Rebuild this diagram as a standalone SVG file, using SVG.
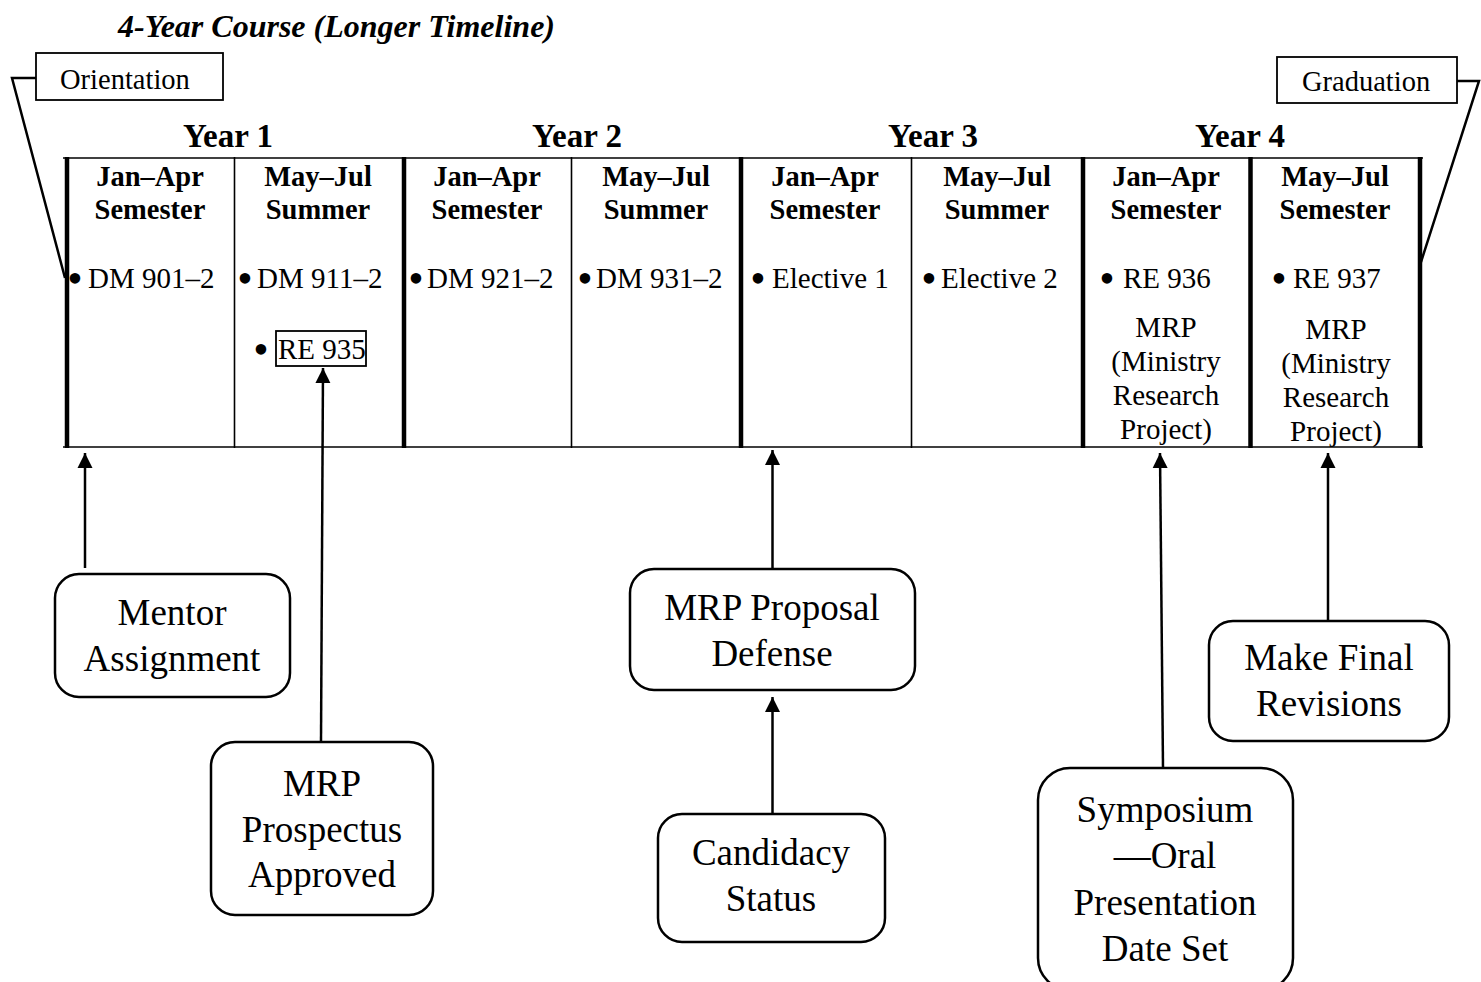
<svg xmlns="http://www.w3.org/2000/svg" width="1481" height="982" viewBox="0 0 1481 982">
<defs>
<marker id="ah" markerUnits="userSpaceOnUse" markerWidth="16" markerHeight="16" viewBox="0 0 16 16" refX="15" refY="8" orient="auto">
<path d="M0,0.5 L15,8 L0,15.5 Z" fill="#000"/>
</marker>
<style>
text{font-family:"Liberation Serif","Times New Roman",serif;fill:#000}
.t{font-weight:bold;font-style:italic;font-size:32px}
.yr{font-weight:bold;font-size:33px;text-anchor:middle}
.hd{font-weight:bold;font-size:28.5px;text-anchor:middle}
.it{font-size:29px}
.bu{font-size:44px;text-anchor:middle}
.c{font-size:29px;text-anchor:middle}
.lb{font-size:28.5px}
.bx{font-size:37px;text-anchor:middle}
.node{fill:#fff;stroke:#000;stroke-width:2.5}
.thin{stroke:#000;stroke-width:1.6}
.thick{stroke:#000;stroke-width:4.5}
.conn line,.conn polyline{stroke:#000;stroke-width:2.5;fill:none}
</style>
</defs>
<rect width="1481" height="982" fill="#fff"/>
<text class="t" x="118" y="37">4-Year Course (Longer Timeline)</text>

<g id="table">
<text class="yr" x="228" y="147">Year 1</text>
<text class="yr" x="577" y="147">Year 2</text>
<text class="yr" x="933" y="147">Year 3</text>
<text class="yr" x="1240" y="147">Year 4</text>
<line class="thin" x1="63" y1="158" x2="1423" y2="158" stroke-width="2.2"/>
<line class="thin" x1="63" y1="447" x2="1423" y2="447" stroke-width="2.2"/>
<line class="thick" x1="67" y1="157" x2="67" y2="448"/>
<line class="thin" x1="234.5" y1="157" x2="234.5" y2="448"/>
<line class="thick" x1="404" y1="157" x2="404" y2="448"/>
<line class="thin" x1="571.5" y1="157" x2="571.5" y2="448"/>
<line class="thick" x1="741" y1="157" x2="741" y2="448"/>
<line class="thin" x1="911.5" y1="157" x2="911.5" y2="448"/>
<line class="thick" x1="1083" y1="157" x2="1083" y2="448"/>
<line class="thick" x1="1250.5" y1="157" x2="1250.5" y2="448"/>
<line class="thick" x1="1420" y1="157" x2="1420" y2="448" stroke-width="5"/>

<text class="hd" x="150" y="186">Jan–Apr</text><text class="hd" x="150" y="219">Semester</text>
<text class="hd" x="318" y="186">May–Jul</text><text class="hd" x="318" y="219">Summer</text>
<text class="hd" x="487" y="186">Jan–Apr</text><text class="hd" x="487" y="219">Semester</text>
<text class="hd" x="656" y="186">May–Jul</text><text class="hd" x="656" y="219">Summer</text>
<text class="hd" x="825" y="186">Jan–Apr</text><text class="hd" x="825" y="219">Semester</text>
<text class="hd" x="997" y="186">May–Jul</text><text class="hd" x="997" y="219">Summer</text>
<text class="hd" x="1166" y="186">Jan–Apr</text><text class="hd" x="1166" y="219">Semester</text>
<text class="hd" x="1335" y="186">May–Jul</text><text class="hd" x="1335" y="219">Semester</text>

<text class="bu" x="75" y="293">•</text><text class="it" x="88" y="288">DM 901–2</text>
<text class="bu" x="245" y="293">•</text><text class="it" x="257" y="288">DM 911–2</text>
<text class="bu" x="416" y="293">•</text><text class="it" x="427" y="288">DM 921–2</text>
<text class="bu" x="585" y="293">•</text><text class="it" x="596" y="288">DM 931–2</text>
<text class="bu" x="758" y="293">•</text><text class="it" x="772" y="288">Elective 1</text>
<text class="bu" x="929" y="293">•</text><text class="it" x="941" y="288">Elective 2</text>
<text class="bu" x="1107" y="293">•</text><text class="it" x="1123" y="288">RE 936</text>
<text class="bu" x="1279" y="293">•</text><text class="it" x="1293" y="288">RE 937</text>

<text class="bu" x="261" y="364">•</text>
<rect x="276" y="331" width="90" height="35" fill="none" stroke="#000" stroke-width="1.8"/>
<text class="it" x="278" y="359">RE 935</text>

<text class="c" x="1166" y="337">MRP</text>
<text class="c" x="1166" y="371">(Ministry</text>
<text class="c" x="1166" y="405">Research</text>
<text class="c" x="1166" y="439">Project)</text>
<text class="c" x="1336" y="339">MRP</text>
<text class="c" x="1336" y="373">(Ministry</text>
<text class="c" x="1336" y="407">Research</text>
<text class="c" x="1336" y="441">Project)</text>
</g>

<g id="orientation">
<rect x="36" y="53" width="187" height="47" fill="#fff" stroke="#000" stroke-width="1.8"/>
<text class="lb" x="60" y="89">Orientation</text>
</g>
<g id="graduation">
<rect x="1277" y="57" width="180" height="46" fill="#fff" stroke="#000" stroke-width="1.8"/>
<text class="lb" x="1302" y="91">Graduation</text>
</g>

<g id="mentor">
<rect class="node" x="55" y="574" width="235" height="123" rx="24"/>
<text class="bx" x="172" y="625">Mentor</text>
<text class="bx" x="172" y="671">Assignment</text>
</g>
<g id="prospectus">
<rect class="node" x="211" y="742" width="222" height="173" rx="24"/>
<text class="bx" x="322" y="796">MRP</text>
<text class="bx" x="322" y="842">Prospectus</text>
<text class="bx" x="322" y="887">Approved</text>
</g>
<g id="proposal">
<rect class="node" x="630" y="569" width="285" height="121" rx="24"/>
<text class="bx" x="772" y="620">MRP Proposal</text>
<text class="bx" x="772" y="666">Defense</text>
</g>
<g id="candidacy">
<rect class="node" x="658" y="814" width="227" height="128" rx="24"/>
<text class="bx" x="771" y="865">Candidacy</text>
<text class="bx" x="771" y="911">Status</text>
</g>
<g id="symposium">
<rect class="node" x="1038" y="768" width="255" height="222" rx="32"/>
<text class="bx" x="1165" y="822">Symposium</text>
<text class="bx" x="1165" y="868">—Oral</text>
<text class="bx" x="1165" y="915">Presentation</text>
<text class="bx" x="1165" y="961">Date Set</text>
</g>
<g id="revisions">
<rect class="node" x="1209" y="621" width="240" height="120" rx="24"/>
<text class="bx" x="1329" y="670">Make Final</text>
<text class="bx" x="1329" y="716">Revisions</text>
</g>

<g id="connectors" class="conn">
<polyline points="36,78 12,78 65,278" stroke-width="2"/>
<polyline points="1457,81 1479,81 1421,262" stroke-width="2"/>
<line x1="85" y1="568" x2="85" y2="453" marker-end="url(#ah)"/>
<line x1="321" y1="742" x2="323" y2="368" marker-end="url(#ah)"/>
<line x1="772.5" y1="568" x2="772.5" y2="450" marker-end="url(#ah)"/>
<line x1="772.5" y1="813" x2="772.5" y2="697" marker-end="url(#ah)"/>
<line x1="1163" y1="768" x2="1160" y2="453" marker-end="url(#ah)"/>
<line x1="1328" y1="620" x2="1328" y2="453" marker-end="url(#ah)"/>
</g>
</svg>
